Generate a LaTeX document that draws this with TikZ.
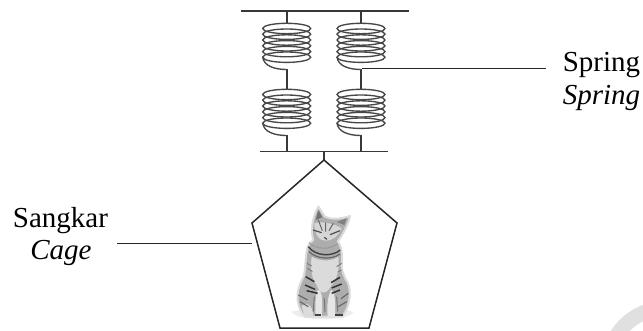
\documentclass[tikz,border=0pt]{standalone}
\usepackage{fontspec}
\setmainfont{Liberation Serif}
\tikzset{
  barline/.style={draw=black!78,line width=1.9pt},
  stemline/.style={draw=black!78,line width=1.6pt},
  coilline/.style={draw=black!72,line width=1.35pt},
  leader/.style={draw=black!85,line width=1pt},
  label/.style={font=\fontsize{29}{33}\selectfont,inner sep=0pt,anchor=base},
  coil/.pic={
    \foreach \yy in {5.5,11.2,17,22.8,28.6,34.2}
      \draw[coilline] (0,\yy) ellipse [x radius=24,y radius=5.2];
    \draw[coilline] (-24,34) .. controls (-23,43) and (-12,46.5) .. (0,46.5);
  }
}
\begin{document}
\begin{tikzpicture}[x=1pt,y=-1pt]
\useasboundingbox (0,0) rectangle (643,331);
\fill[white] (0,0) rectangle (643,331);
% faint ring in the corner
\begin{scope}
  \clip (0,0) rectangle (643,331);
  \draw[draw=black!12,line width=15pt] (665,365) circle [radius=56.5];
\end{scope}
% anchors
\coordinate (topL) at (241,11);
\coordinate (topR) at (409,11);
\coordinate (topA) at (286.7,11);
\coordinate (topB) at (361,11);
\coordinate (c1a) at (286.7,23);
\coordinate (c1b) at (361,23);
\coordinate (c1ae) at (286.7,69.5);
\coordinate (c1be) at (361,69.5);
\coordinate (c2a) at (286.7,89);
\coordinate (c2b) at (361,89);
\coordinate (c2ae) at (286.7,135.5);
\coordinate (c2be) at (361,135.5);
\coordinate (botL) at (260,151.5);
\coordinate (botR) at (388,151.5);
\coordinate (botA) at (286.7,151.5);
\coordinate (botB) at (361,151.5);
\coordinate (botC) at (324,151.5);
\coordinate (p1) at (324,160);
\coordinate (p2) at (397,223);
\coordinate (p3) at (369,328);
\coordinate (p4) at (280,328);
\coordinate (p5) at (252,223);
\coordinate (cageEdge) at (252,243.5);
\coordinate (springPt) at (362,69);
% springs
\draw[barline] (topL) -- (topR);
\draw[barline] (botL) -- (botR);
\draw[stemline] (topA) -- (c1a);
\draw[stemline] (topB) -- (c1b);
\draw[stemline] (c1ae) -- (c2a);
\draw[stemline] (c1be) -- (c2b);
\draw[stemline] (c2ae) -- (botA);
\draw[stemline] (c2be) -- (botB);
\draw[stemline] (botC) -- (p1);
\pic at (c1a) {coil};
\pic at (c1b) {coil};
\pic at (c2a) {coil};
\pic at (c2b) {coil};
% cage
\draw[draw=black!85,line width=1.5pt,line join=miter] (p1) -- (p2) -- (p3) -- (p4) -- (p5) -- cycle;
% cat
\begin{scope}[shift={(285,200)},scale=1/3]
  \fill[black!7] (20,335) .. controls (60,325) and (160,325) .. (205,335) .. controls (200,365) and (30,365) .. (20,335) -- cycle;
  \path[fill=black!32,draw=black!14,line width=2pt,line join=round]
    (100,20) -- (118,48) .. controls (135,60) and (165,58) .. (195,48)
    .. controls (190,72) and (178,95) .. (158,125)
    .. controls (172,140) and (172,170) .. (170,200)
    .. controls (172,220) and (178,225) .. (182,238)
    .. controls (200,260) and (200,310) .. (172,350)
    -- (60,350) .. controls (38,325) and (25,285) .. (55,232)
    .. controls (62,215) and (60,170) .. (68,140)
    .. controls (72,130) and (80,125) .. (85,120)
    .. controls (78,100) and (78,60) .. (100,20) -- cycle;
  % lighter areas
  \fill[black!16] (88,70) .. controls (110,62) and (150,72) .. (170,85) .. controls (160,108) and (145,122) .. (120,122) .. controls (100,122) and (88,100) .. (88,70) -- cycle;
  \fill[black!14] (80,170) .. controls (105,185) and (140,185) .. (160,170) .. controls (165,205) and (155,240) .. (140,255) .. controls (125,285) and (105,285) .. (95,255) .. controls (80,235) and (75,205) .. (80,170) -- cycle;
  \fill[black!10] (98,270) .. controls (108,265) and (115,290) .. (110,350) -- (92,350) .. controls (90,320) and (90,290) .. (98,270) -- cycle;
  \fill[black!10] (138,270) .. controls (148,268) and (152,300) .. (150,350) -- (128,350) .. controls (125,320) and (128,290) .. (138,270) -- cycle;
  \fill[black!14] (50,320) .. controls (65,300) and (85,320) .. (85,350) -- (60,350) -- cycle;
  % ears
  \fill[black!55] (100,30) -- (112,52) -- (92,60) -- cycle;
  \fill[black!50] (185,55) -- (178,75) -- (155,66) -- cycle;
  % face
  \draw[black!70,line width=1.2pt] (84,90) -- (110,98) (135,104) -- (165,92) (118,112) -- (126,118);
  \draw[black!60,line width=1pt] (100,60) -- (112,92) (122,68) -- (122,95) (145,70) -- (132,92);
  % neck stripes
  \draw[black!75,line width=1.4pt] (70,140) .. controls (90,168) and (140,172) .. (166,150);
  \draw[black!60,line width=1.2pt] (72,155) .. controls (95,178) and (140,180) .. (165,162);
  \draw[black!40,line width=1pt] (72,128) .. controls (95,150) and (135,150) .. (158,130);
  % body stripes
  \draw[black!50,line width=1pt] (68,205) -- (82,215) (66,190) -- (80,198) (170,190) -- (155,200) (170,210) -- (158,216);
  % fore legs
  \draw[black!80,line width=1.5pt] (62,230) -- (88,245) (60,255) -- (90,268) (65,272) -- (98,280);
  \draw[black!80,line width=1.5pt] (165,232) -- (138,248) (170,252) -- (140,264) (165,270) -- (140,280);
  % haunches and paws
  \draw[black!60,line width=1.1pt] (40,285) -- (68,300) (45,305) -- (70,320) (190,280) -- (168,296) (185,305) -- (160,320);
  \draw[black!75,line width=1.5pt] (90,345) -- (108,345) (150,345) -- (175,345);
  \draw[black!55,line width=1pt] (118,295) -- (120,335) (88,290) -- (85,335) (155,290) -- (158,335);
\end{scope}
% labels and leaders
\node[label] (springA) at (601.5,72) {Spring};
\node[label,font=\fontsize{29}{33}\selectfont\itshape] (springB) at (601.5,105) {Spring};
\node[label] (cageA) at (60.5,228) {Sangkar};
\node[label,font=\fontsize{29}{33}\selectfont\itshape] (cageB) at (61,260) {Cage};
\coordinate (springEnd) at (546,69);
\coordinate (cageEnd) at (117,243.5);
\draw[leader] (springPt) -- (springEnd);
\draw[leader,line width=1.4pt] (cageEnd) -- (cageEdge);
\end{tikzpicture}
\end{document}
